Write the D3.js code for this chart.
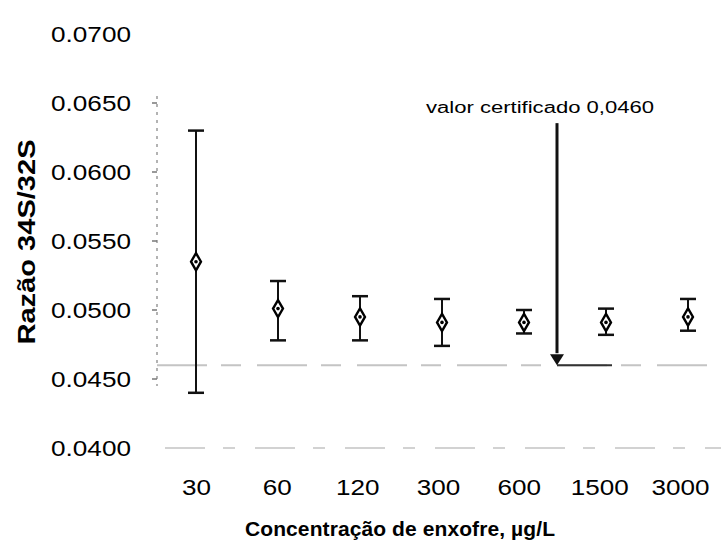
<!DOCTYPE html>
<html>
<head>
<meta charset="utf-8">
<script src="https://cdn.jsdelivr.net/npm/d3@7"></script>
<style>
  html, body { margin: 0; padding: 0; background: #fff; }
  svg { display: block; }
  text { font-family: "Liberation Sans", Arial, sans-serif; fill: #000; }
</style>
</head>
<body>
<svg id="chart" width="721" height="549"></svg>
<script>
// Sulfur isotope ratio 34S/32S versus sulfur concentration
const categories = ["30", "60", "120", "300", "600", "1500", "3000"];
const meanRatio  = [0.0535, 0.0501, 0.0495, 0.0491, 0.0491, 0.0491, 0.0495];
const upperRatio = [0.0630, 0.0521, 0.0510, 0.0508, 0.0500, 0.0501, 0.0508];
const lowerRatio = [0.0440, 0.0478, 0.0478, 0.0474, 0.0483, 0.0482, 0.0485];
const yTicks = [0.0400, 0.0450, 0.0500, 0.0550, 0.0600, 0.0650, 0.0700];
const certifiedValue = 0.0460;
const certifiedLabel = "valor certificado 0,0460";
const labelLevel = 0.0647;

const svg = d3.select("#chart");

const y = d3.scaleLinear().domain([0.04, 0.07]).range([448, 34]);
const x = d3.scalePoint().domain(categories).range([196, 688]);
const xText = x.copy().range([196, 680]);

const plotLeft = 157, plotRight = 721;

// faint reference lines at the bottom of the range and at the certified value
svg.append("line")
  .attr("x1", plotLeft + 8).attr("x2", plotRight)
  .attr("y1", y(0.04)).attr("y2", y(0.04))
  .attr("stroke", "#d2d2d2").attr("stroke-width", 2)
  .attr("stroke-dasharray", "40 18 12 20");

svg.append("line")
  .attr("x1", plotLeft).attr("x2", plotRight)
  .attr("y1", y(certifiedValue)).attr("y2", y(certifiedValue))
  .attr("stroke", "#c4c4c4").attr("stroke-width", 2)
  .attr("stroke-dasharray", "50 14 20 16");

// darker stretch of the certified line next to the arrow
svg.append("line")
  .attr("x1", 557).attr("x2", 612)
  .attr("y1", y(certifiedValue)).attr("y2", y(certifiedValue))
  .attr("stroke", "#333").attr("stroke-width", 2);

// y axis (light, dashed)
svg.append("line")
  .attr("x1", plotLeft).attr("x2", plotLeft)
  .attr("y1", y(0.0655)).attr("y2", y(0.0445))
  .attr("stroke", "#9a9a9a").attr("stroke-width", 1.5)
  .attr("stroke-dasharray", "3 5");

const yAxis = d3.axisLeft(y).tickValues(yTicks).tickFormat(d3.format(".4f")).tickSize(0).tickPadding(0);
const gy = svg.append("g").attr("transform", "translate(131,0)").call(yAxis);
gy.select(".domain").remove();
gy.selectAll("text")
  .attr("x", 0)
  .attr("textLength", 80).attr("lengthAdjust", "spacingAndGlyphs")
  .style("font-size", "22px")
  .style("font-family", "'Liberation Sans', Arial, sans-serif")
  .attr("fill", "#000");

svg.append("g").selectAll("line")
  .data(yTicks.filter(d => d > 0.0445 && d < 0.066))
  .join("line")
  .attr("x1", plotLeft - 5).attr("x2", plotLeft)
  .attr("y1", d => y(d)).attr("y2", d => y(d))
  .attr("stroke", "#777").attr("stroke-width", 1.5);

// x axis labels
const xAxis = d3.axisBottom(xText).tickSize(0).tickPadding(0);
const gx = svg.append("g").attr("transform", "translate(0,479)").call(xAxis);
gx.select(".domain").remove();
gx.selectAll("text")
  .attr("textLength", d => d.length * 14.5).attr("lengthAdjust", "spacingAndGlyphs")
  .style("font-size", "22px")
  .style("font-family", "'Liberation Sans', Arial, sans-serif")
  .attr("fill", "#000");

// error bars
const bars = svg.append("g");
categories.forEach((c, i) => {
  const cx = x(c);
  bars.append("line")
    .attr("x1", cx).attr("x2", cx)
    .attr("y1", y(upperRatio[i])).attr("y2", y(lowerRatio[i]))
    .attr("stroke", "#111").attr("stroke-width", 2);
  [upperRatio[i], lowerRatio[i]].forEach(v => {
    bars.append("line")
      .attr("x1", cx - 8).attr("x2", cx + 8)
      .attr("y1", y(v)).attr("y2", y(v))
      .attr("stroke", "#111").attr("stroke-width", 2.5);
  });
});

// mean markers
svg.append("g").selectAll("path")
  .data(categories)
  .join("path")
  .attr("transform", (c, i) => `translate(${x(c)},${y(meanRatio[i])})`)
  .attr("d", d3.symbol(d3.symbolDiamond, 85))
  .attr("fill", "#fff").attr("stroke", "#000").attr("stroke-width", 2.4);

svg.append("g").selectAll("circle")
  .data(categories)
  .join("circle")
  .attr("cx", c => x(c))
  .attr("cy", (c, i) => y(meanRatio[i]))
  .attr("r", 1.8).attr("fill", "#000");

// certified value annotation with arrow
const arrowX = 557;
svg.append("text")
  .attr("x", 540).attr("y", y(labelLevel) + 6)
  .attr("text-anchor", "middle")
  .attr("textLength", 228).attr("lengthAdjust", "spacingAndGlyphs")
  .style("font-size", "16px")
  .text(certifiedLabel);

svg.append("line")
  .attr("x1", arrowX).attr("x2", arrowX)
  .attr("y1", y(labelLevel) + 16).attr("y2", y(certifiedValue) - 12)
  .attr("stroke", "#111").attr("stroke-width", 3);

const tipY = y(certifiedValue);
svg.append("path")
  .attr("d", `M${arrowX - 7},${tipY - 11} L${arrowX + 7},${tipY - 11} L${arrowX},${tipY} Z`)
  .attr("fill", "#111");

// axis titles
svg.append("text")
  .attr("x", 400).attr("y", 536)
  .attr("text-anchor", "middle")
  .attr("textLength", 310).attr("lengthAdjust", "spacing")
  .style("font-size", "21px").style("font-weight", "bold")
  .text("Concentração de enxofre, µg/L");

svg.append("text")
  .attr("transform", "translate(35,242) rotate(-90)")
  .attr("text-anchor", "middle")
  .attr("textLength", 205).attr("lengthAdjust", "spacingAndGlyphs")
  .style("font-size", "23px").style("font-weight", "bold")
  .text("Razão 34S/32S");
</script>
</body>
</html>
